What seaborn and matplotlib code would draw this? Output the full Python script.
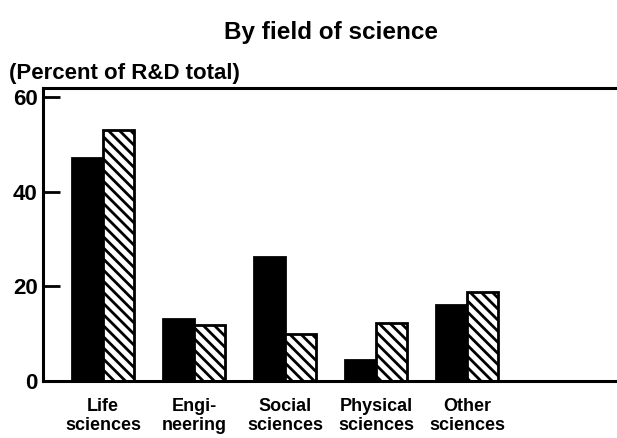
import pandas as pd
import matplotlib
matplotlib.use("Agg")
import matplotlib.pyplot as plt
import seaborn as sns

sns.set_theme(style="white")
plt.rcParams["font.family"] = ["Liberation Sans", "DejaVu Sans"]
plt.rcParams["hatch.linewidth"] = 2.0
plt.rcParams["text.color"] = "black"
plt.rcParams["xtick.color"] = "black"
plt.rcParams["ytick.color"] = "black"

# dados
categorias = ["Life\nsciences", "Engi-\nneering", "Social\nsciences", "Physical\nsciences", "Other\nsciences"]
serie_solida = [47.2, 13.2, 26.3, 4.5, 16.0]
serie_hachurada = [53.1, 11.9, 9.9, 12.2, 18.9]
series = ["Solid", "Hatched"]
yticks = [0, 20, 40, 60]

df = pd.DataFrame({
    "Campo": categorias * 2,
    "Serie": [series[0]] * len(categorias) + [series[1]] * len(categorias),
    "Percent": serie_solida + serie_hachurada,
})

fig = plt.figure(figsize=(6.17, 4.38), dpi=100)
ax = fig.add_axes([0.07, 0.13, 0.93, 0.669])

sns.barplot(data=df, x="Campo", y="Percent", hue="Serie", palette=["black", "white"],
            width=0.68, gap=0, legend=False, ax=ax, edgecolor="black", linewidth=2)

for bar in ax.containers[1]:
    bar.set_hatch("\\\\\\")
    bar.set_facecolor("white")
    bar.set_edgecolor("black")

ax.set_xlim(-0.66, 5.65)
ax.set_ylim(0, 61.9)
ax.set_yticks(yticks)
ax.set_yticklabels([str(t) for t in yticks], fontsize=16, fontweight="bold")
ax.tick_params(axis="y", direction="in", length=12, width=2, pad=4, left=True)
ax.tick_params(axis="x", length=0, pad=12)
for lbl in ax.get_xticklabels():
    lbl.set_fontsize(13)
    lbl.set_fontweight("bold")
    lbl.set_linespacing(1.15)

ax.set_xlabel("")
ax.set_ylabel("")
for lado in ["left", "top", "bottom"]:
    ax.spines[lado].set_color("black")
    ax.spines[lado].set_linewidth(2.2)
ax.spines["right"].set_visible(False)

fig.text(0.537, 0.925, "By field of science", ha="center", va="center",
         fontsize=17.5, fontweight="bold")
fig.text(0.015, 0.833, "(Percent of R&D total)", ha="left", va="center",
         fontsize=16, fontweight="bold")

plt.savefig("out.png", dpi=100)
